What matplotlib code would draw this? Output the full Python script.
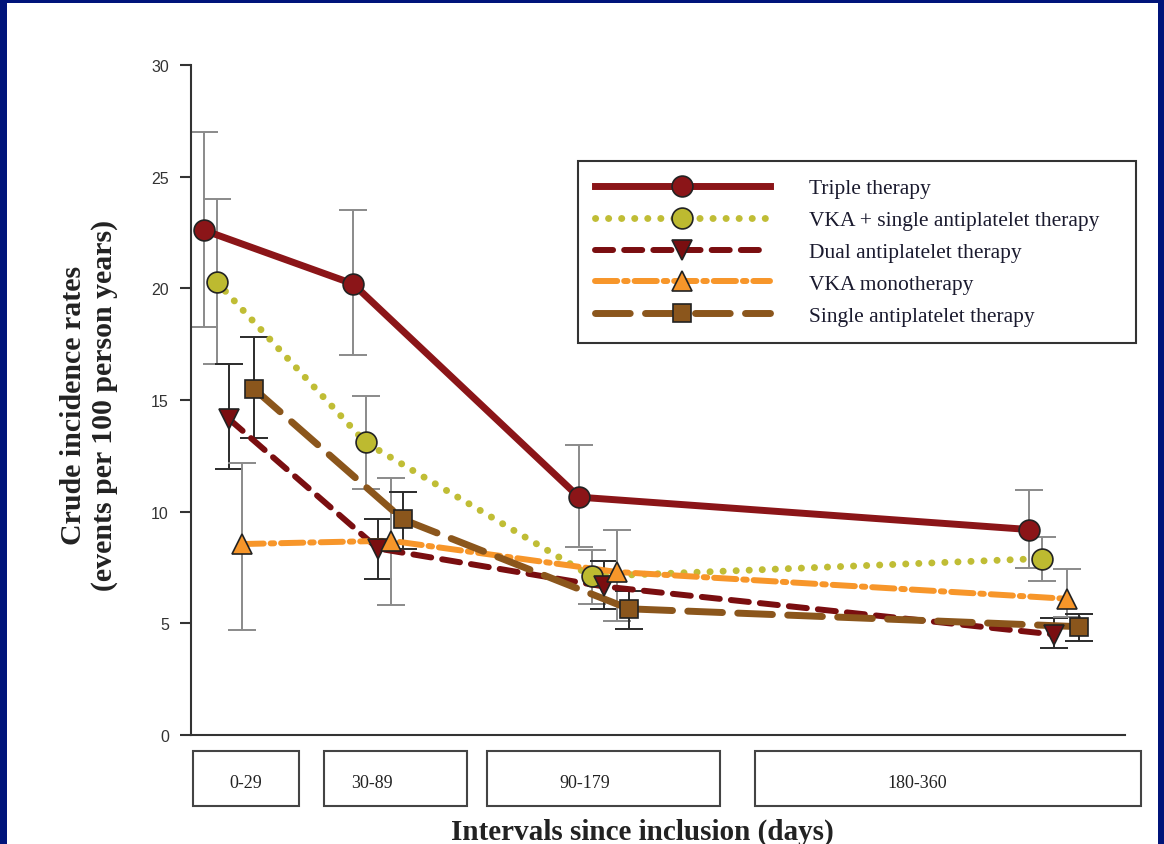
import matplotlib
matplotlib.use("Agg")
import matplotlib.pyplot as plt
from matplotlib.patches import Rectangle
from matplotlib.lines import Line2D
from matplotlib.transforms import blended_transform_factory
import numpy as np

plt.rcParams['lines.scale_dashes'] = False

# ---------------- data ----------------
intervals = ["0-29", "30-89", "90-179", "180-360"]
series_names = ["Triple therapy", "VKA + single antiplatelet therapy",
                "Dual antiplatelet therapy", "VKA monotherapy",
                "Single antiplatelet therapy"]

triple = [22.6, 20.2, 10.65, 9.2]
triple_lo = [18.25, 17.0, 8.4, 7.5]
triple_hi = [27.0, 23.5, 13.0, 10.95]

vka_single = [20.3, 13.1, 7.1, 7.9]
vka_single_lo = [16.6, 11.0, 5.85, 6.9]
vka_single_hi = [24.0, 15.2, 8.3, 8.85]

dual = [14.15, 8.35, 6.65, 4.5]
dual_lo = [11.9, 7.0, 5.65, 3.9]
dual_hi = [16.6, 9.65, 7.8, 5.25]

vka_mono = [8.55, 8.7, 7.3, 6.1]
vka_mono_lo = [4.7, 5.8, 5.1, 5.3]
vka_mono_hi = [12.2, 11.5, 9.2, 7.45]

single = [15.5, 9.65, 5.65, 4.85]
single_lo = [13.3, 8.35, 4.75, 4.2]
single_hi = [17.8, 10.9, 6.45, 5.4]

yticks = [0, 5, 10, 15, 20, 25, 30]

# ---------------- layout ----------------
W, H = 1164, 845
fig = plt.figure(figsize=(W / 100, H / 100), dpi=100)
fig.patch.set_facecolor("white")

ax_l, ax_r, ax_t, ax_b = 191, 1125, 66, 736
ax = fig.add_axes([ax_l / W, 1 - ax_b / H, (ax_r - ax_l) / W, (ax_b - ax_t) / H])
ax.set_xlim(0, ax_r - ax_l)
ax.set_ylim(0, 30)

group_pos = np.array([38, 187, 413, 863])
offsets = [-25, -12.5, 0, 12.5, 25]

styles = [
    dict(color="#8B1518", lw=5.0, ls="-", marker="o", ms=15, mfc="#8B1518",
         ecol="#8a8a8a", cap="round"),
    dict(color="#C0BD35", lw=5.0, ls=(0, (0.1, 9.3)), marker="o", ms=15,
         mfc="#BDBA30", ecol="#8a8a8a", cap="round"),
    dict(color="#7A0E10", lw=4.3, ls=(0, (13, 8)), marker="v", ms=15,
         mfc="#7A0E10", ecol="#2b2b2b", cap="round"),
    dict(color="#F7962A", lw=4.3, ls=(0, (16, 5, 2.5, 5)), marker="^", ms=15,
         mfc="#F7962A", ecol="#8a8a8a", cap="round"),
    dict(color="#8B561C", lw=5.0, ls=(0, (25, 11)), marker="s", ms=13,
         mfc="#8B561C", ecol="#2b2b2b", cap="round"),
]

values = [triple, vka_single, dual, vka_mono, single]
los = [triple_lo, vka_single_lo, dual_lo, vka_mono_lo, single_lo]
his = [triple_hi, vka_single_hi, dual_hi, vka_mono_hi, single_hi]

handles = []
for i, (vals, lo, hi, st) in enumerate(zip(values, los, his, styles)):
    x = group_pos + offsets[i]
    v = np.array(vals)
    yerr = np.vstack([v - np.array(lo), np.array(hi) - v])
    ax.errorbar(x, v, yerr=yerr, fmt="none", ecolor=st["ecol"], elinewidth=1.4,
                capsize=10, capthick=1.4, zorder=2, clip_on=False)
    ax.plot(x, v, color=st["color"], lw=st["lw"], ls=st["ls"],
            dash_capstyle=st["cap"], solid_capstyle="round",
            zorder=3 + i * 0.1, clip_on=False)
    ax.plot(x, v, ls="none", marker=st["marker"], ms=st["ms"], mfc=st["mfc"],
            mec="#222222", mew=1.2, zorder=5 + i * 0.1, clip_on=False)
    handles.append(Line2D([], [], color=st["color"], lw=st["lw"], ls=st["ls"],
                          dash_capstyle=st["cap"], marker=st["marker"],
                          ms=st["ms"], mfc=st["mfc"], mec="#222222", mew=1.2))

# axes styling
for s in ["top", "right"]:
    ax.spines[s].set_visible(False)
for s in ["left", "bottom"]:
    ax.spines[s].set_color("#333333")
    ax.spines[s].set_linewidth(1.5)
ax.set_yticks(yticks)
ax.set_yticklabels([str(t) for t in yticks], fontfamily="Liberation Sans",
                   fontsize=11.5, color="#333333")
ax.tick_params(axis="y", length=8, width=1.5, color="#333333", pad=8)
ax.set_xticks([])

# interval boxes below axis
box_x = [(2, 108), (133, 276), (296, 529), (564, 950)]
label_x = [55, 181, 394, 726]
trans = blended_transform_factory(ax.transData, fig.transFigure)
for (x0, x1), lx, lab in zip(box_x, label_x, intervals):
    r = Rectangle((x0, 1 - 807 / H), x1 - x0, (807 - 752) / H, transform=trans,
                  fill=False, edgecolor="#444444", lw=1.5, clip_on=False)
    fig.add_artist(r)
    fig.text(lx, 1 - 784 / H, lab, transform=trans, ha="center", va="center",
             fontfamily="Liberation Serif", fontsize=13, color="#222222")

# axis labels
fig.text(642 / W, 1 - 832 / H, "Intervals since inclusion (days)", ha="center",
         va="center", fontfamily="Liberation Serif", fontweight="bold",
         fontsize=21, color="#222222")
fig.text(89 / W, 1 - 405 / H, "Crude incidence rates\n(events per 100 person years)",
         ha="center", va="center", rotation=90, fontfamily="Liberation Serif",
         fontweight="bold", fontsize=21.5, color="#222222", linespacing=1.15)

# legend
leg = fig.legend(handles, series_names, loc="upper left", mode="expand",
                 bbox_to_anchor=(578 / W, 1 - 342 / H, 558 / W, 180 / H),
                 bbox_transform=fig.transFigure,
                 prop=dict(family="Liberation Serif", size=15.5),
                 handlelength=8.1, handletextpad=1.85, labelspacing=0.55,
                 borderpad=0.8, borderaxespad=0, numpoints=1, fancybox=False,
                 framealpha=1, edgecolor="#333333")
leg.get_frame().set_linewidth(1.5)
for t in leg.get_texts():
    t.set_color("#1a1a2e")

# navy border
navy = "#00147A"
fig.add_artist(Rectangle((0, 0), 7 / W, 1, transform=fig.transFigure,
                         color=navy, lw=0, zorder=10))
fig.add_artist(Rectangle((0, 1 - 4 / H), 1, 4 / H, transform=fig.transFigure,
                         color=navy, lw=0, zorder=10))
fig.add_artist(Rectangle((1 - 6 / W, 0), 6 / W, 1, transform=fig.transFigure,
                         color=navy, lw=0, zorder=10))

fig.savefig("out.png", dpi=100)
